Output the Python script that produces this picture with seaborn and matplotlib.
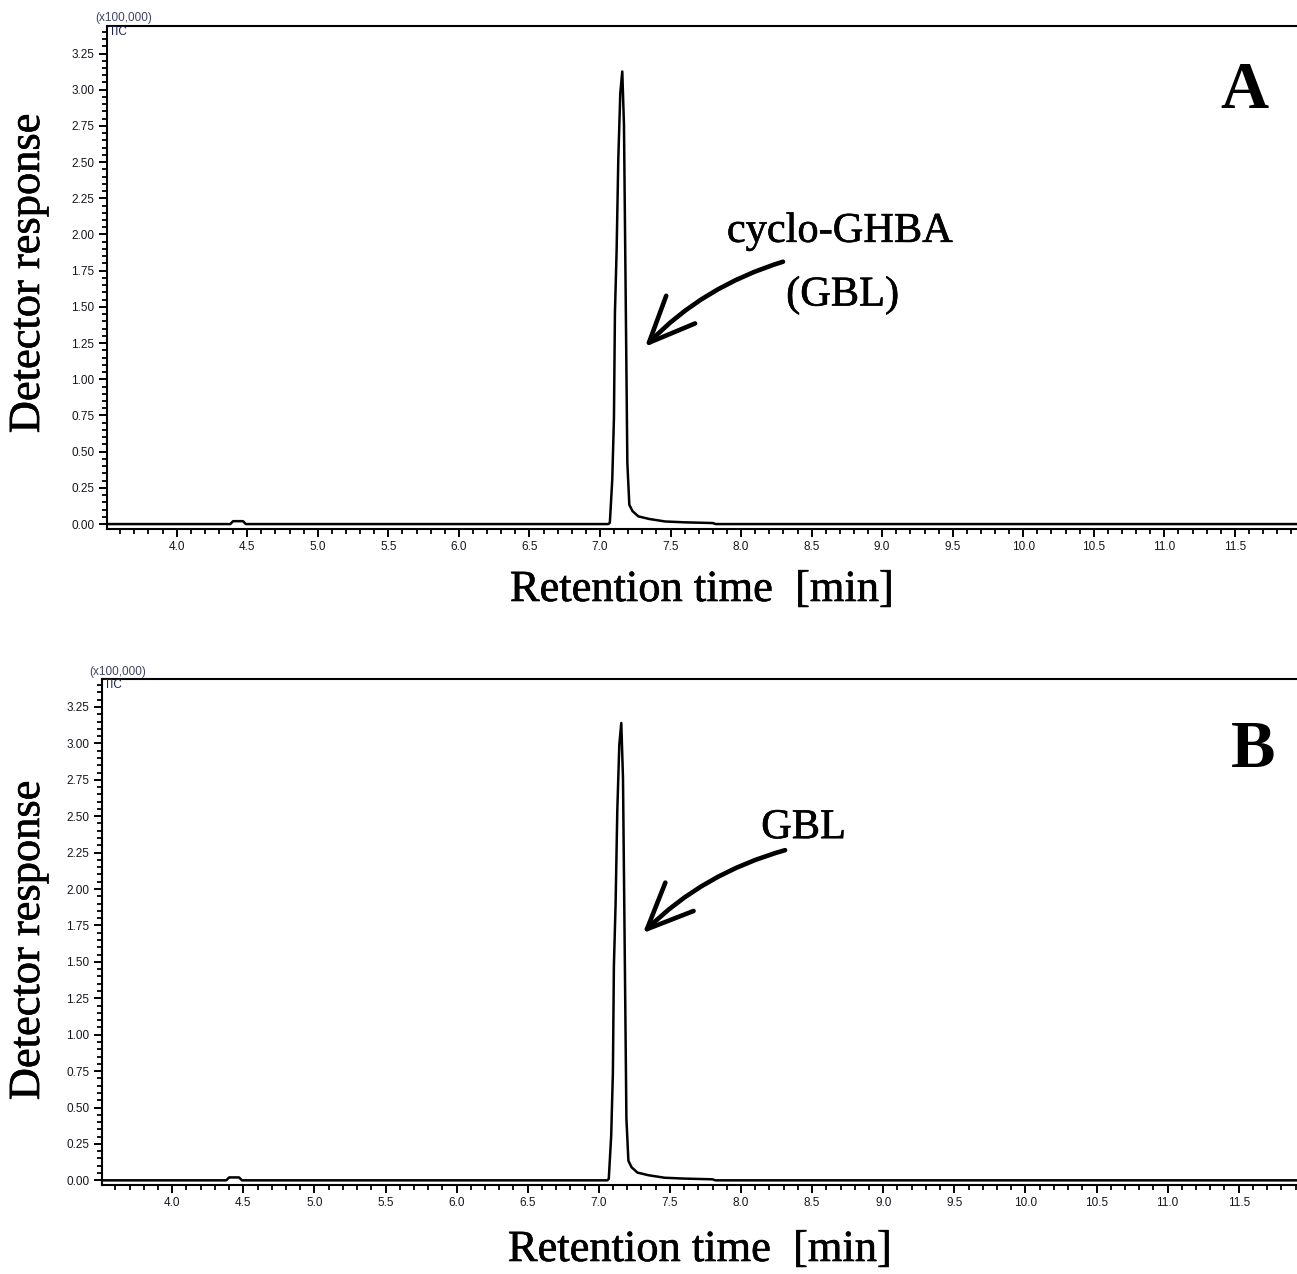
import numpy as np
import pandas as pd
import matplotlib
matplotlib.use("Agg")
import matplotlib.pyplot as plt
import matplotlib.patheffects as pe
from matplotlib.ticker import MultipleLocator, FormatStrFormatter
import seaborn as sns

# ---- data (response in units of 100,000) ----
retention_time = [3.50, 4.38, 4.40, 4.47, 4.49, 7.060, 7.070, 7.087, 7.099, 7.106,
                  7.118, 7.130, 7.144, 7.158, 7.170, 7.182, 7.194, 7.208, 7.230,
                  7.272, 7.350, 7.461, 7.600, 7.800, 7.820, 11.95]
response_a = [0.0, 0.0, 0.02, 0.02, 0.0, 0.0, 0.01, 0.306, 0.732, 1.457,
              1.894, 2.527, 2.977, 3.126, 2.758, 1.595, 0.421, 0.133, 0.090,
              0.053, 0.035, 0.018, 0.012, 0.007, 0.0, 0.0]
response_b = [0.0, 0.0, 0.02, 0.02, 0.0, 0.0, 0.01, 0.306, 0.740, 1.470,
              1.900, 2.540, 2.990, 3.140, 2.760, 1.600, 0.425, 0.135, 0.090,
              0.053, 0.035, 0.018, 0.012, 0.007, 0.0, 0.0]
panel_letters = ["A", "B"]
peak_labels = [["cyclo-GHBA", "(GBL)"], ["GBL"]]
x_label = "Retention time  [min]"
y_label = "Detector response"
scale_label = "(x100,000)"
trace_label = "TIC"

sns.set_theme(style="ticks")
plt.rcParams["font.family"] = ["Liberation Sans", "DejaVu Sans"]
plt.rcParams["text.color"] = "black"

W, H = 1297, 1274
fig = plt.figure(figsize=(W / 100, H / 100), dpi=100)

def px_rect(left, top, right, bottom):
    return [left / W, 1 - bottom / H, (right - left) / W, (bottom - top) / H]

ax_a = fig.add_axes(px_rect(106.7, 26, 1297, 528.7))
ax_b = fig.add_axes(px_rect(101.7, 679.3, 1297, 1185))
axes = [ax_a, ax_b]
xlims = [(3.504, 11.94), (3.504, 11.91)]
serif = ["Liberation Serif", "DejaVu Serif"]
heavy = [pe.withStroke(linewidth=0.45, foreground="black")]

for ax, resp, xl in zip(axes, [response_a, response_b], xlims):
    df = pd.DataFrame({"t": retention_time, "r": resp})
    sns.lineplot(data=df, x="t", y="r", ax=ax, color="black", lw=1.8,
                 sort=False, estimator=None)
    ax.set_xlim(*xl)
    ax.set_ylim(-0.032, 3.44)
    ax.xaxis.set_major_locator(MultipleLocator(0.5))
    ax.xaxis.set_minor_locator(MultipleLocator(0.1))
    ax.yaxis.set_major_locator(MultipleLocator(0.25))
    ax.yaxis.set_minor_locator(MultipleLocator(0.05))
    ax.xaxis.set_major_formatter(FormatStrFormatter("%.1f"))
    ax.yaxis.set_major_formatter(FormatStrFormatter("%.2f"))
    ax.tick_params(which="major", direction="out", length=6, width=1.4,
                   labelsize=8.5, pad=3, colors="black", labelcolor="#15151f")
    ax.tick_params(which="minor", direction="out", length=3.6, width=1.3, colors="black")
    ax.spines["right"].set_visible(False)
    for s in ["left", "top", "bottom"]:
        ax.spines[s].set_linewidth(1.5)
        ax.spines[s].set_color("black")
    ax.set_xlabel("")
    ax.set_ylabel("")
    ax.text(0.002, 1.0, trace_label, transform=ax.transAxes, fontsize=8.5,
            color="#1a2050", ha="left", va="top")
    ax.text(-0.010, 1.003, scale_label, transform=ax.transAxes, fontsize=8.5,
            color="#3b4466", ha="left", va="bottom")

# axis titles
for xc, yc in [(702, 590), (700, 1250)]:
    fig.text(xc / W, 1 - yc / H, x_label, family=serif, fontsize=32,
             ha="center", va="center", path_effects=heavy)
for yc in [273, 940]:
    fig.text(28 / W, 1 - yc / H, y_label, family=serif, fontsize=32,
             ha="center", va="center", rotation=90, path_effects=heavy)

# panel letters
ax_a.text(11.57, 2.985, panel_letters[0], family=serif, fontsize=48,
          fontweight="bold", ha="center", va="center")
ax_b.text(11.60, 2.95, panel_letters[1], family=serif, fontsize=48,
          fontweight="bold", ha="center", va="center")

# peak annotations
arrow_kw = dict(arrowstyle="->,head_length=1.65,head_width=0.72", lw=3.3,
                color="black", connectionstyle="arc3,rad=0.13",
                mutation_scale=20, shrinkA=0, shrinkB=0, capstyle="round")
ax_a.annotate("", xy=(7.319, 1.224), xytext=(8.297, 1.812), arrowprops=arrow_kw)
ax_a.text(8.70, 2.02, peak_labels[0][0], family=serif, fontsize=30.5,
          ha="center", va="center", path_effects=heavy)
ax_a.text(8.72, 1.58, peak_labels[0][1], family=serif, fontsize=30.5,
          ha="center", va="center", path_effects=heavy)
ax_b.annotate("", xy=(7.31, 1.697), xytext=(8.31, 2.267), arrowprops=arrow_kw)
ax_b.text(8.44, 2.42, peak_labels[1][0], family=serif, fontsize=30.5,
          ha="center", va="center", path_effects=heavy)

fig.savefig("out.png", dpi=100)
